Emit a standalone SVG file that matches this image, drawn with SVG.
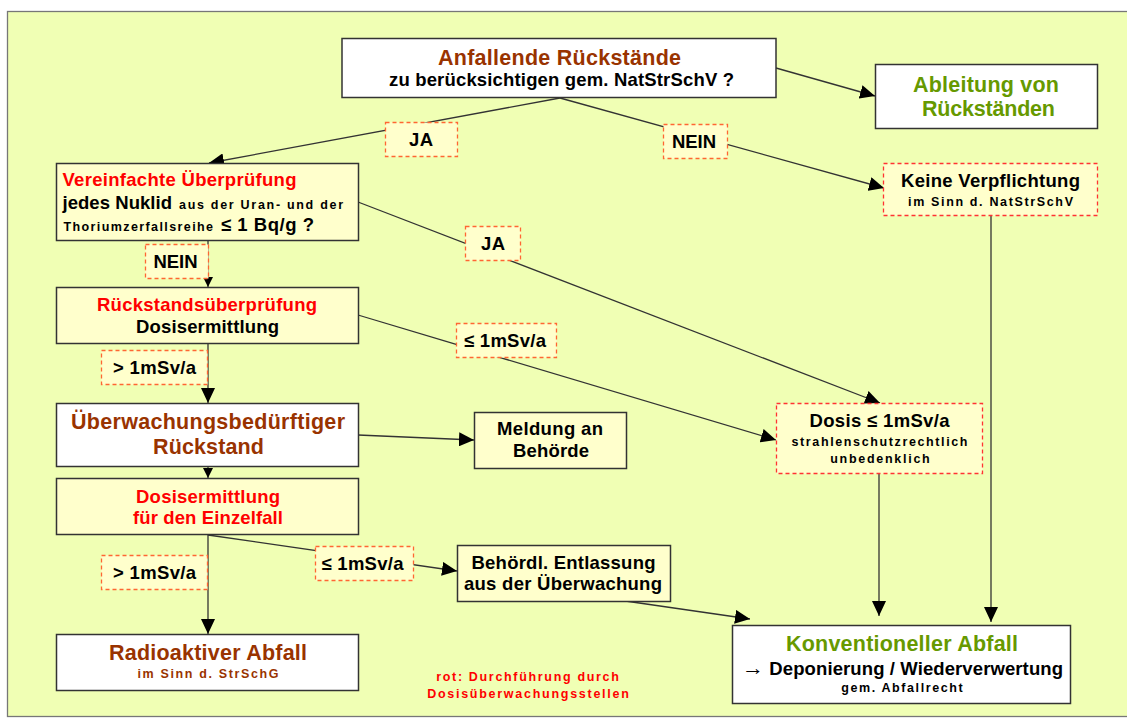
<svg xmlns="http://www.w3.org/2000/svg" width="1127" height="718" viewBox="0 0 1127 718">
<defs>
<marker id="ah" markerUnits="userSpaceOnUse" markerWidth="16" markerHeight="14" refX="15" refY="7" orient="auto"><path d="M0,0 L15,7 L0,14 z" fill="#000"/></marker>
<marker id="ahs" markerUnits="userSpaceOnUse" markerWidth="11" markerHeight="10" refX="10" refY="5" orient="auto"><path d="M0,0 L10,5 L0,10 z" fill="#000"/></marker>
<style>
text{font-family:"Liberation Sans",Arial,sans-serif;font-weight:bold}
.box{stroke:#333;stroke-width:1.5}
.w{fill:#fff}
.y{fill:#FFFFCC}
.dn{fill:#FFFFCC;stroke:#FF3333;stroke-width:1.3;stroke-dasharray:4 3}
.lb{fill:#FFFFCC;stroke:#FF6633;stroke-width:1.3;stroke-dasharray:4 3}
.e{stroke:#333;stroke-width:1.3;fill:none}
.br{fill:#993300}
.rd{fill:#FF0000}
.gr{fill:#669900}
.bk{fill:#000}
.c{text-anchor:middle}
.t{font-size:21.5px}
.m{font-size:18.5px}
.s{font-size:12.5px}
</style>
</defs>
<rect x="0" y="0" width="1127" height="718" fill="#fff"/>
<rect x="7.5" y="11.5" width="1130" height="705" fill="#F0FFB4" stroke="#777" stroke-width="1.3"/>

<g id="connectors">
<line class="e" x1="560" y1="98" x2="209" y2="163" marker-end="url(#ah)"/>
<line class="e" x1="560" y1="98" x2="884" y2="188" marker-end="url(#ah)"/>
<line class="e" x1="776" y1="68" x2="875" y2="96" marker-end="url(#ah)"/>
<line class="e" x1="991" y1="215" x2="991" y2="622" marker-end="url(#ah)"/>
<line class="e" x1="208" y1="241" x2="208" y2="287" marker-end="url(#ahs)"/>
<line class="e" x1="358" y1="202" x2="880" y2="403" marker-end="url(#ah)"/>
<line class="e" x1="358" y1="315" x2="776" y2="440" marker-end="url(#ah)"/>
<line class="e" x1="208" y1="343" x2="208" y2="403" marker-end="url(#ah)"/>
<line class="e" x1="358" y1="435" x2="474" y2="440" marker-end="url(#ah)"/>
<line class="e" x1="879" y1="474" x2="879" y2="616" marker-end="url(#ah)"/>
<line class="e" x1="208" y1="467" x2="208" y2="478" marker-end="url(#ahs)"/>
<line class="e" x1="208" y1="535" x2="208" y2="634" marker-end="url(#ah)"/>
<line class="e" x1="208" y1="535" x2="457" y2="571" marker-end="url(#ah)"/>
<line class="e" x1="563" y1="592" x2="750" y2="619" marker-end="url(#ah)"/>
</g>

<g id="n1">
<rect class="box w" x="342" y="38.5" width="434" height="59"/>
<text class="br c t" x="559.5" y="65" textLength="243" lengthAdjust="spacing">Anfallende Rückstände</text>
<text class="bk c m" x="561.5" y="86" textLength="345" lengthAdjust="spacing">zu berücksichtigen gem. NatStrSchV ?</text>
</g>
<g id="n2">
<rect class="box w" x="875.5" y="64.5" width="222" height="64"/>
<text class="gr c t" x="986" y="92" textLength="146" lengthAdjust="spacing">Ableitung von</text>
<text class="gr c t" x="988.5" y="116" textLength="133" lengthAdjust="spacing">Rückständen</text>
</g>
<g id="n3">
<rect class="box y" x="56.5" y="163.5" width="302" height="77"/>
<text class="rd m" x="62.5" y="186" textLength="234" lengthAdjust="spacing">Vereinfachte Überprüfung</text>
<text class="bk m" x="62.5" y="209" textLength="109.5" lengthAdjust="spacing">jedes Nuklid</text>
<text class="bk s" x="179" y="209" textLength="164" lengthAdjust="spacing">aus der Uran- und der</text>
<text class="bk s" x="63.5" y="231" textLength="149.5" lengthAdjust="spacing">Thoriumzerfallsreihe</text>
<text class="bk m" x="221" y="231" textLength="93" lengthAdjust="spacing">≤ 1 Bq/g ?</text>
</g>
<g id="n5">
<rect class="dn" x="883.5" y="163.5" width="214" height="52"/>
<text class="bk c m" x="990.5" y="187" textLength="179" lengthAdjust="spacing">Keine Verpflichtung</text>
<text class="bk c s" x="990.5" y="206" textLength="165" lengthAdjust="spacing">im Sinn d. NatStrSchV</text>
</g>
<g id="n7">
<rect class="box y" x="56.5" y="287.5" width="302" height="56"/>
<text class="rd c m" x="207" y="311" textLength="220" lengthAdjust="spacing">Rückstandsüberprüfung</text>
<text class="bk c m" x="207.5" y="333" textLength="143" lengthAdjust="spacing">Dosisermittlung</text>
</g>
<g id="n8">
<rect class="dn" x="776.5" y="403.5" width="206" height="70"/>
<text class="bk c m" x="879.5" y="427" textLength="140" lengthAdjust="spacing">Dosis ≤ 1mSv/a</text>
<text class="bk c s" x="879.5" y="446" textLength="176" lengthAdjust="spacing">strahlenschutzrechtlich</text>
<text class="bk c s" x="880" y="463" textLength="99.5" lengthAdjust="spacing">unbedenklich</text>
</g>
<g id="n9">
<rect class="box w" x="56.5" y="403.5" width="302" height="63"/>
<text class="br c t" x="208" y="429" textLength="274" lengthAdjust="spacing">Überwachungsbedürftiger</text>
<text class="br c t" x="208.5" y="454" textLength="111" lengthAdjust="spacing">Rückstand</text>
</g>
<g id="n10">
<rect class="box y" x="474.5" y="412.5" width="152" height="56"/>
<text class="bk c m" x="550" y="435" textLength="106" lengthAdjust="spacing">Meldung an</text>
<text class="bk c m" x="551" y="457" textLength="76" lengthAdjust="spacing">Behörde</text>
</g>
<g id="n11">
<rect class="box y" x="56.5" y="478.5" width="302" height="56"/>
<text class="rd c m" x="208" y="503" textLength="144" lengthAdjust="spacing">Dosisermittlung</text>
<text class="rd c m" x="208" y="524" textLength="150" lengthAdjust="spacing">für den Einzelfall</text>
</g>
<g id="n12">
<rect class="box y" x="457.5" y="545.5" width="213" height="56"/>
<text class="bk c m" x="563.5" y="569" textLength="184" lengthAdjust="spacing">Behördl. Entlassung</text>
<text class="bk c m" x="563" y="590" textLength="198" lengthAdjust="spacing">aus der Überwachung</text>
</g>
<g id="n13">
<rect class="box w" x="56.5" y="634.5" width="302" height="56"/>
<text class="br c t" x="208" y="660" textLength="198" lengthAdjust="spacing">Radioaktiver Abfall</text>
<text class="br c s" x="208" y="678" textLength="141" lengthAdjust="spacing">im Sinn d. StrSchG</text>
</g>
<g id="n14">
<rect class="box w" x="732.5" y="625.5" width="338" height="78"/>
<text class="gr c t" x="902" y="651" textLength="232" lengthAdjust="spacing">Konventioneller Abfall</text>
<text class="bk c m" x="902.5" y="675" textLength="321" lengthAdjust="spacing"><tspan font-size="22px">→</tspan> Deponierung / Wiederverwertung</text>
<text class="bk c s" x="902" y="692" textLength="121.5" lengthAdjust="spacing">gem. Abfallrecht</text>
</g>

<g id="labels">
<g id="l-ja1"><rect class="lb" x="385.5" y="122.5" width="72" height="34"/><text class="bk c m" x="421" y="146" textLength="24" lengthAdjust="spacing">JA</text></g>
<g id="l-nein1"><rect class="lb" x="663.5" y="124.5" width="64" height="34"/><text class="bk c m" x="694" y="148" textLength="44" lengthAdjust="spacing">NEIN</text></g>
<g id="l-nein2"><rect class="lb" x="145.5" y="244.5" width="63" height="34"/><text class="bk c m" x="175.5" y="268" textLength="44" lengthAdjust="spacing">NEIN</text></g>
<g id="l-ja2"><rect class="lb" x="465.5" y="226.5" width="55" height="34"/><text class="bk c m" x="493" y="250" textLength="24" lengthAdjust="spacing">JA</text></g>
<g id="l-le1"><rect class="lb" x="456.5" y="323.5" width="100" height="34"/><text class="bk c m" x="505" y="347" textLength="82" lengthAdjust="spacing">≤ 1mSv/a</text></g>
<g id="l-gt1"><rect class="lb" x="101.5" y="350.5" width="106" height="34"/><text class="bk c m" x="154.5" y="374" textLength="83" lengthAdjust="spacing">&gt; 1mSv/a</text></g>
<g id="l-gt2"><rect class="lb" x="101.5" y="555.5" width="106" height="34"/><text class="bk c m" x="154.5" y="579" textLength="83" lengthAdjust="spacing">&gt; 1mSv/a</text></g>
<g id="l-le2"><rect class="lb" x="315.5" y="546.5" width="98" height="34"/><text class="bk c m" x="362.5" y="570" textLength="82" lengthAdjust="spacing">≤ 1mSv/a</text></g>
</g>

<g id="legend">
<text class="rd c s" x="527.5" y="681" textLength="182.6" lengthAdjust="spacing">rot: Durchführung durch</text>
<text class="rd c s" x="528" y="698" textLength="201.7" lengthAdjust="spacing">Dosisüberwachungsstellen</text>
</g>
</svg>
